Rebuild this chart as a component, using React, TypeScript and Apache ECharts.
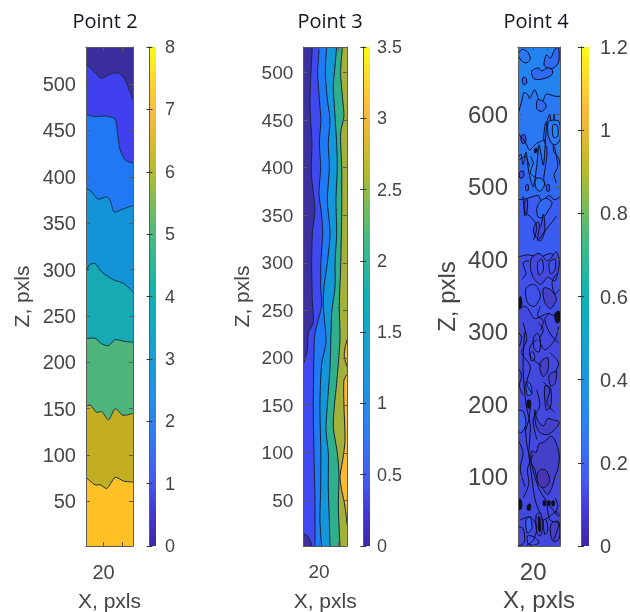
import React, { useEffect, useRef } from "react";
import * as echarts from "echarts";

const TITLES = ["Point 2", "Point 3", "Point 4"];
const Z_NAME = "Z, pxls";
const X_NAME = "X, pxls";

const P2_XRANGE = [1, 52];
const P2_ZRANGE = [2, 540];
const P3_XRANGE = [3.5, 49.5];
const P3_ZRANGE = [2, 527];
const P4_XRANGE = [-1, 57];
const P4_ZRANGE = [4, 693];

const P2_ZTICKS = [50, 100, 150, 200, 250, 300, 350, 400, 450, 500];
const P3_ZTICKS = [50, 100, 150, 200, 250, 300, 350, 400, 450, 500];
const P4_ZTICKS = [100, 200, 300, 400, 500, 600];
const X_TICKS = [20, 40];
const X_LABELS = [20];

const CBAR_MAX = [8, 3.5, 1.2];
const CBAR_STEP = [1, 0.5, 0.2];

const PARULA = ["#3e26a8", "#4435cf", "#4556f1", "#3a6ef5", "#2d83f2", "#1f92e4", "#1a9dd6", "#12a8c6", "#0fb1b3", "#2cb79a", "#4bbb7f", "#7fbb58", "#b5bb2e", "#dcba30", "#fcbb3e", "#fbd92c", "#f9fb15"];

const P2_COLORS = ["#3a2d9c", "#4040ee", "#2178f5", "#1494d8", "#17aab4", "#4db57a", "#c2ae20", "#ffc125"];
const P3_COLORS = ["#3c2f9e", "#4048f0", "#2079f5", "#1496da", "#2fb08c", "#a3b03a", "#fdb92e"];
const P4_COLORS = ["#2384f0", "#2a78f2", "#3069f2", "#3a5cf0", "#4250ea", "#4348de", "#4540c8", "#4535b0", "#10101c"];

// Point 2: contour levels, from the top of the bar downward
const P2_B1 = [[1, 522], [7, 516], [12.7, 510], [18, 506], [23.6, 509], [31, 512], [37.4, 511.5], [42.5, 506], [47.3, 495], [52, 483]];
const P2_B2 = [[1, 468], [9, 465], [23.6, 465.5], [32.7, 462], [35.2, 447], [38, 429], [43.7, 418], [52, 415]];
const P2_B3 = [[1, 388], [7, 384], [14, 376], [23.6, 378.4], [27, 375], [31.7, 362], [40, 365], [52, 369]];
const P2_B4 = [[1, 296], [4.6, 305], [10.8, 306.5], [18, 297.5], [31, 289], [42, 285], [52, 276]];
const P2_B5 = [[1, 225.5], [10.8, 226], [18, 220], [25.4, 218], [32.7, 224.5], [42, 222.7], [52, 221.6]];
const P2_B6 = [[1, 152.5], [5.4, 154], [12.7, 146], [18, 147], [25.4, 138], [32.7, 150], [41, 143], [52, 145]];
const P2_B7 = [[1, 76], [10.8, 68], [16.3, 68], [23.6, 64], [32.7, 76], [41.8, 72], [52, 71]];

// Point 3: contour levels, running down the bar
const P3_C1 = [[13, 527], [11.2, 493], [10.5, 465], [12.6, 426], [11.9, 394.5], [15.8, 356], [13, 331], [12.3, 296], [13, 261], [14, 237], [8.8, 226], [7.7, 208], [3.5, 193]];
const P3_C1B = [[3.5, 15], [7.7, 13], [11.2, 7], [12.3, 2]];
const P3_C2 = [[20.4, 527], [18.6, 500], [20.4, 472], [22, 450], [20.4, 426], [21.8, 400], [20, 373], [22.8, 350], [23.9, 331], [22, 300], [21.8, 275], [22.8, 255], [15.8, 226], [14.7, 205], [14, 150], [14.7, 100], [15.8, 50], [15.8, 2]];
const P3_C3 = [[28.1, 527], [26.7, 500], [28.8, 472], [31.6, 450], [29.8, 426], [30.9, 400], [28.8, 366], [31.6, 331], [28.8, 300], [25.3, 275], [24.6, 255], [27.4, 216], [22.8, 194], [21, 150], [22, 100], [21.8, 64], [21, 29], [22.8, 2]];
const P3_C4 = [[38.6, 527], [36.9, 507], [35.1, 486], [36.9, 454], [38.6, 426], [39.3, 400], [37.9, 366], [38.6, 331], [36.9, 300], [36.9, 275], [33.4, 247], [31.6, 190], [28.8, 150], [27.4, 124], [29.8, 100], [29.8, 64], [30.9, 29], [31.6, 2]];
const P3_C5 = [[44.6, 527], [42.8, 500], [44.9, 472], [46.3, 454], [42.8, 437], [43.9, 400], [43.9, 349], [42.8, 296], [41.4, 255], [42.1, 219], [38.6, 173], [36.2, 150], [35.1, 127], [39.3, 100], [41, 78], [40.4, 43], [42.1, 2]];
const P3_C6A = [[49.5, 182.5], [46.3, 176.5], [46.3, 150], [47.4, 113], [44.9, 92], [42.1, 75], [43.9, 60.5], [46.3, 50], [48.4, 36], [49.5, 25]];
const P3_C6B = [[49.5, 219], [47, 208], [46.7, 201], [49.5, 190.6]];

// Point 4: wandering contours across the bar, then closed loops
const P4_D1 = [[-1, 600], [4, 618], [7, 630], [12, 628], [15, 622], [22, 634], [27, 622], [30, 610], [38, 628], [50, 625], [57, 625]];
const P4_D2 = [[-1, 540], [3, 545], [6, 530], [10, 548], [14, 520], [20, 500], [25, 530], [28, 558], [34, 530], [39, 590], [43, 600], [46, 570], [49, 600], [48, 550], [55, 540], [57, 530]];
const P4_D3 = [[-1, 482], [12, 484], [27, 488], [32, 478], [41, 488], [50, 482], [57, 486]];
const P4_D4 = [[-1, 403], [12, 406], [30, 403], [44, 408], [57, 400]];
const P4_D5 = [[-1, 330], [10, 335], [22, 318], [40, 325], [57, 318]];
const P4_D6 = [[8, 300], [6, 250], [10, 200], [16, 170], [14, 130], [18, 100], [22, 70], [28, 52], [34, 40], [44, 46], [52, 52], [57, 45]];

// [level, ...ring points]
const P4_LOOPS: [number, number[][]][] = [
  [1, [[0, 685], [6, 690], [13, 685], [16, 676], [10, 671], [4, 674], [0, 680]]],
  [2, [[35, 668], [38, 682], [44, 678], [50, 690], [55, 692], [55, 672], [48, 664], [40, 664]]],
  [2, [[18, 660], [27, 664], [32, 660], [39, 664], [46, 662], [46, 655], [37, 650], [27, 648], [20, 650]]],
  [3, [[6, 651], [10, 650], [11, 643], [7, 641], [5, 646]]],
  [1, [[41, 590], [48, 592], [56, 590], [57, 565], [50, 558], [44, 562], [40, 575]]],
  [0, [[47, 585], [53, 585], [54, 570], [48, 568]]],
  [2, [[26, 620], [34, 618], [38, 610], [31, 604], [25, 608]]],
  [5, [[3, 570], [8, 572], [10, 562], [5, 560]]],
  [8, [[22, 552], [25, 553], [25, 548], [22, 547]]],
  [5, [[1, 520], [6, 522], [7, 514], [2, 512]]],
  [1, [[23, 510], [30, 512], [36, 505], [30, 494], [24, 498]]],
  [4, [[10, 502], [13, 503], [13, 495], [10, 495]]],
  [4, [[39, 502], [42, 503], [42, 494], [39, 494]]],
  [2, [[25, 470], [30, 480], [38, 484], [46, 478], [40, 466], [34, 458], [27, 458]]],
  [6, [[8, 480], [12, 482], [11, 462], [8, 460]]],
  [5, [[20, 440], [26, 452], [30, 445], [34, 462], [36, 440], [30, 425], [24, 430]]],
  [5, [[18, 402], [28, 408], [40, 398], [52, 410], [56, 395], [50, 370], [40, 375], [30, 365], [20, 375], [16, 390]]],
  [4, [[26, 395], [32, 400], [34, 385], [28, 378]]],
  [4, [[42, 395], [50, 400], [50, 385], [44, 380]]],
  [4, [[10, 360], [22, 365], [30, 350], [22, 335], [12, 340]]],
  [6, [[34, 360], [44, 358], [52, 345], [44, 332], [36, 340]]],
  [8, [[50, 325], [56, 328], [57, 315], [52, 312]]],
  [8, [[-1, 345], [3, 348], [4, 335], [-1, 332]]],
  [5, [[20, 290], [26, 298], [30, 285], [28, 272], [22, 275]]],
  [6, [[30, 258], [40, 264], [40, 245], [34, 238], [30, 245]]],
  [6, [[42, 240], [52, 245], [50, 228], [44, 225]]],
  [4, [[16, 270], [20, 272], [22, 262], [17, 260]]],
  [3, [[10, 230], [16, 228], [18, 214], [12, 212]]],
  [6, [[36, 225], [44, 222], [44, 196], [38, 192]]],
  [3, [[-1, 190], [6, 190], [10, 172], [3, 160], [-1, 165]]],
  [8, [[12, 205], [16, 205], [16, 195], [12, 195]]],
  [6, [[22, 192], [26, 178], [34, 170], [40, 180], [48, 178], [56, 175], [50, 165], [40, 158], [30, 160], [24, 170]]],
  [6, [[18, 135], [24, 133], [28, 145], [36, 148], [44, 156], [50, 150], [56, 130], [54, 110], [50, 100], [46, 85], [40, 75], [32, 85], [26, 95], [22, 110], [17, 120]]],
  [7, [[26, 105], [32, 110], [38, 108], [42, 100], [42, 92], [36, 85], [30, 86], [26, 93]]],
  [3, [[10, 40], [16, 44], [18, 28], [12, 22]]],
  [6, [[24, 46], [30, 50], [33, 30], [30, 18], [25, 22]]],
  [8, [[27, 44], [29, 44], [30, 25], [28, 24]]],
  [5, [[34, 40], [38, 40], [40, 25], [36, 20]]],
  [6, [[45, 35], [55, 38], [56, 14], [48, 10], [44, 20]]],
  [5, [[-1, 30], [6, 28], [8, 10], [3, 5], [-1, 6]]],
  [4, [[12, 18], [22, 16], [28, 8], [14, 6]]],
  [8, [[-1, 68], [3, 68], [4, 56], [-1, 54]]],
  [8, [[12, 60], [16, 62], [16, 54], [12, 54]]],
  [8, [[34, 66], [37, 66], [37, 60], [34, 60]]],
  [8, [[40, 66], [43, 66], [43, 60], [40, 60]]],
  [8, [[46, 66], [49, 66], [49, 60], [46, 60]]],
];

// Point 4: contour pieces that are only seen as lines
const P4_TRACES = [
  [[37, 589], [34.5, 566], [39, 552], [37, 529], [34.5, 510], [37, 501]],
  [[49, 556], [54, 528], [49, 517], [52, 505]],
  [[16, 542], [20, 533], [16, 519], [25, 512]],
  [[1, 537], [9, 542], [15, 528]],
  [[-1, 574], [10, 560], [15, 551], [25, 560], [36, 565]],
  [[29, 445], [26, 426], [34, 436], [52, 459]],
  [[6, 487], [9, 464], [16, 459], [25, 445], [20, 426]],
  [[6, 312], [11, 289], [4, 271], [16, 252], [11, 229], [18, 215]],
  [[27, 312], [34, 303], [29, 289], [36, 275], [50, 289], [55, 307]],
  [[43, 271], [55, 257], [50, 243]],
  [[25, 220], [29, 197], [20, 179], [25, 151]],
  [[9, 169], [11, 146], [16, 123], [29, 81], [55, 44]],
  [[16, 197], [14, 179], [9, 162]],
  [[34, 230], [43, 220], [39, 202], [50, 188]],
  [[-1, 151], [6, 133], [2, 110], [9, 86]],
  [[2, 40], [16, 44], [25, 30], [20, 12], [11, 5]],
  [[39, 63], [43, 40], [55, 35], [48, 12]],
  [[25, 289], [16, 280], [16, 266], [32, 252]],
  [[43, 326], [36, 317], [43, 298], [55, 284]],
  [[4, 372], [10, 380], [6, 395], [14, 398]],
  [[52, 380], [46, 368], [50, 352], [56, 358]],
  [[30, 335], [26, 322], [34, 315], [30, 302]],
  [[-1, 300], [4, 292], [1, 280]],
  [[-1, 250], [4, 240], [1, 225], [6, 212]],
  [[20, 130], [12, 110], [14, 90], [6, 70]],
  [[50, 70], [54, 60], [50, 48]],
];

type Region = { pts: number[][]; fill?: string; corners?: number[][] };

const bottomClose = (xr: number[], zr: number[]) => [[xr[1], zr[0]], [xr[0], zr[0]]];
const rightClose = (xr: number[], zr: number[]) => [[xr[1], zr[0]], [xr[1], zr[1]]];

const p2Regions: Region[] = [P2_B1, P2_B2, P2_B3, P2_B4, P2_B5, P2_B6, P2_B7].map((pts, i) => ({
  pts,
  fill: P2_COLORS[i + 1],
  corners: bottomClose(P2_XRANGE, P2_ZRANGE),
}));

const p3Regions: Region[] = [
  { pts: P3_C1, fill: P3_COLORS[0], corners: [[P3_XRANGE[0], P3_ZRANGE[1]]] },
  { pts: P3_C1B, fill: P3_COLORS[0], corners: [[P3_XRANGE[0], P3_ZRANGE[0]]] },
  ...[P3_C2, P3_C3, P3_C4, P3_C5].map((pts, i) => ({
    pts,
    fill: P3_COLORS[i + 2],
    corners: rightClose(P3_XRANGE, P3_ZRANGE),
  })),
  { pts: P3_C6A, fill: P3_COLORS[6], corners: [] },
  { pts: P3_C6B, fill: P3_COLORS[6], corners: [] },
];

const p4Regions: Region[] = [
  ...[P4_D1, P4_D2, P4_D3, P4_D4, P4_D5].map((pts, i) => ({
    pts,
    fill: P4_COLORS[i + 1],
    corners: bottomClose(P4_XRANGE, P4_ZRANGE),
  })),
  { pts: P4_D6, fill: P4_COLORS[5], corners: [[P4_XRANGE[1], 318], [30, 310]] },
  ...P4_LOOPS.map(([lvl, pts]) => ({ pts, fill: P4_COLORS[lvl] })),
  ...P4_TRACES.map((pts) => ({ pts })),
];

const PANELS = [
  { title: TITLES[0], cx: 105, left: 86, width: 47, xr: P2_XRANGE, zr: P2_ZRANGE, ticks: P2_ZTICKS, base: P2_COLORS[0], regions: p2Regions, fs: 20, nameFs: 21, gap: 54, xGap: 44, xMargin: 16, lineColor: "#16304a", cbLeft: 149.5, cbW: 6.5, cbGap: 9, cbFs: 18, cbMax: CBAR_MAX[0], cbStep: CBAR_STEP[0] },
  { title: TITLES[1], cx: 330, left: 303.3, width: 43.7, xr: P3_XRANGE, zr: P3_ZRANGE, ticks: P3_ZTICKS, base: P3_COLORS[1], regions: p3Regions, fs: 19, nameFs: 21, gap: 51, xGap: 44, xMargin: 16, lineColor: "#16233a", cbLeft: 363.3, cbW: 6.7, cbGap: 7, cbFs: 18, cbMax: CBAR_MAX[1], cbStep: CBAR_STEP[1] },
  { title: TITLES[2], cx: 536, left: 518, width: 42, xr: P4_XRANGE, zr: P4_ZRANGE, ticks: P4_ZTICKS, base: P4_COLORS[0], regions: p4Regions, fs: 24, nameFs: 24, gap: 60, xGap: 39, xMargin: 13, lineColor: "#0c0f28", cbLeft: 581, cbW: 8, cbGap: 11, cbFs: 20, cbMax: CBAR_MAX[2], cbStep: CBAR_STEP[2] },
];

const TOP = 47;
const HEIGHT = 499;
const FONT = "'Liberation Sans', Arial, sans-serif";
const TEXT = "#454545";
const AXIS = "#5a5a5a";

function buildOption() {
  const grid: any[] = [];
  const xAxis: any[] = [];
  const yAxis: any[] = [];
  const series: any[] = [];
  const title: any[] = [];

  PANELS.forEach((p) => {
    title.push({
      text: p.title,
      left: p.cx,
      top: 10,
      padding: 0,
      textAlign: "center",
      textStyle: { fontFamily: "'Open Sans', sans-serif", fontSize: 20, fontWeight: "normal", color: "#14141e" },
    });

    const g = grid.length;
    grid.push({ left: p.left, top: TOP, width: p.width, height: HEIGHT, outerBoundsMode: "none" });
    const xi = xAxis.length;
    const common = { type: "value", gridIndex: g, splitLine: { show: false }, z: 10, axisLine: { show: true, onZero: false, lineStyle: { color: AXIS, width: 1 } } };
    xAxis.push(
      {
        ...common,
        position: "bottom",
        min: p.xr[0],
        max: p.xr[1],
        name: X_NAME,
        nameLocation: "middle",
        nameGap: p.xGap,
        nameTextStyle: { fontFamily: FONT, fontSize: p.nameFs, color: TEXT },
        axisTick: { show: true, inside: true, length: 4, lineStyle: { color: AXIS }, customValues: X_TICKS },
        axisLabel: { show: true, margin: p.xMargin, fontFamily: FONT, fontSize: p.fs, color: TEXT, customValues: X_LABELS },
      },
      {
        ...common,
        position: "top",
        min: p.xr[0],
        max: p.xr[1],
        axisTick: { show: true, inside: true, length: 4, lineStyle: { color: AXIS }, customValues: X_TICKS },
        axisLabel: { show: false },
      },
    );
    const yi = yAxis.length;
    yAxis.push(
      {
        ...common,
        position: "left",
        min: p.zr[0],
        max: p.zr[1],
        name: Z_NAME,
        nameLocation: "middle",
        nameGap: p.gap,
        nameTextStyle: { fontFamily: FONT, fontSize: p.nameFs, color: TEXT },
        axisTick: { show: true, inside: true, length: 4, lineStyle: { color: AXIS }, customValues: p.ticks },
        axisLabel: { show: true, margin: 10, fontFamily: FONT, fontSize: p.fs, color: TEXT, customValues: p.ticks },
      },
      {
        ...common,
        position: "right",
        min: p.zr[0],
        max: p.zr[1],
        axisTick: { show: true, inside: true, length: 4, lineStyle: { color: AXIS }, customValues: p.ticks },
        axisLabel: { show: false },
      },
    );

    series.push({
      type: "custom",
      xAxisIndex: xi,
      yAxisIndex: yi,
      clip: true,
      silent: true,
      data: [-1, ...p.regions.map((_, i) => i)].map((i) => [p.xr[0], p.zr[0], i]),
      encode: { x: 0, y: 1 },
      renderItem: (params: any, api: any) => {
        const idx = params.dataIndex - 1;
        if (idx < 0) {
          const ring = [[p.xr[0], p.zr[0]], [p.xr[1], p.zr[0]], [p.xr[1], p.zr[1]], [p.xr[0], p.zr[1]]].map((c) => api.coord(c));
          return { type: "polygon", shape: { points: ring }, style: { fill: p.base, stroke: null } };
        }
        const r = p.regions[idx];
        const line = r.pts.map((c) => api.coord(c));
        const stroke = { stroke: p.lineColor, lineWidth: 1, fill: null };
        if (!r.fill) {
          return { type: "polyline", shape: { points: line, smooth: 0.3 }, style: stroke };
        }
        if (!r.corners) {
          return { type: "polygon", shape: { points: line, smooth: 0.3 }, style: { fill: r.fill, stroke: p.lineColor, lineWidth: 1 } };
        }
        const ring = [...r.pts, ...r.corners].map((c) => api.coord(c));
        return {
          type: "group",
          children: [
            { type: "polygon", shape: { points: ring }, style: { fill: r.fill, stroke: null } },
            { type: "polyline", shape: { points: line, smooth: 0.25 }, style: stroke },
          ],
        };
      },
    });

    // colour bar
    const cg = grid.length;
    grid.push({ left: p.cbLeft, top: TOP, width: p.cbW, height: HEIGHT, outerBoundsMode: "none" });
    const cx = xAxis.length;
    xAxis.push({ type: "value", gridIndex: cg, min: 0, max: 1, show: false });
    const cy = yAxis.length;
    const cbCommon = { type: "value", gridIndex: cg, min: 0, max: p.cbMax, interval: p.cbStep, splitLine: { show: false }, z: 10, axisLine: { show: true, lineStyle: { color: AXIS, width: 1 } }, axisTick: { show: true, inside: true, length: 3, lineStyle: { color: "#333" } } };
    yAxis.push(
      { ...cbCommon, position: "right", axisLabel: { show: true, margin: p.cbGap, fontFamily: FONT, fontSize: p.cbFs, color: TEXT } },
      { ...cbCommon, position: "left", axisLabel: { show: false } },
    );
    series.push({
      type: "custom",
      xAxisIndex: cx,
      yAxisIndex: cy,
      silent: true,
      data: [[0, 0]],
      encode: { x: 0, y: 1 },
      renderItem: (_: any, api: any) => {
        const a = api.coord([0, p.cbMax]);
        const b = api.coord([1, 0]);
        const stops = PARULA.map((color, i) => ({ offset: i / (PARULA.length - 1), color }));
        return {
          type: "rect",
          shape: { x: a[0], y: a[1], width: b[0] - a[0], height: b[1] - a[1] },
          style: { fill: new echarts.graphic.LinearGradient(0, 1, 0, 0, stops) },
        };
      },
    });
  });

  return { animation: false, backgroundColor: "#ffffff", title, grid, xAxis, yAxis, series };
}

export default function App() {
  const ref = useRef<HTMLDivElement>(null);
  useEffect(() => {
    const chart = echarts.init(ref.current!, undefined, { renderer: "svg" });
    chart.setOption(buildOption());
    return () => chart.dispose();
  }, []);
  return <div ref={ref} style={{ position: "fixed", left: 0, top: 0, width: 630, height: 612, filter: "blur(0.35px)" }} />;
}
